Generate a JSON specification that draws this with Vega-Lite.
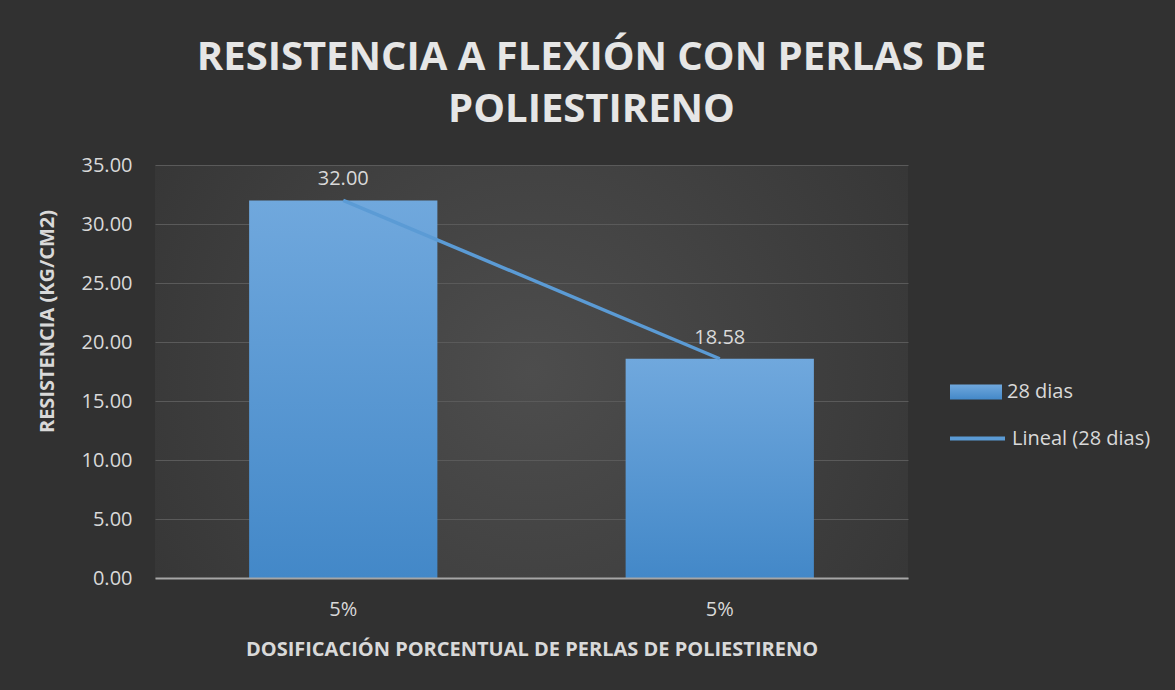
{
  "$schema": "https://vega.github.io/schema/vega-lite/v6.json",
  "width": 753,
  "height": 413,
  "autosize": {"type": "none"},
  "padding": {"left": 155, "top": 165, "right": 267, "bottom": 112},
  "background": "#313131",
  "config": {
    "font": "Open Sans",
    "view": {
      "stroke": null,
      "fill": {"gradient": "radial", "x1": 0.5, "y1": 0.5, "r1": 0, "x2": 0.5, "y2": 0.5, "r2": 0.72,
        "stops": [{"offset": 0, "color": "#4d4d4d"}, {"offset": 1, "color": "#313131"}]}
    },
    "legend": {"padding": 0, "labelColor": "#d9d9d9", "labelFontSize": 20, "labelFont": "Open Sans", "labelOffset": 5, "title": null}
  },
  "title": {
    "text": ["RESISTENCIA A FLEXIÓN CON PERLAS DE", "POLIESTIRENO"],
    "fontSize": 40,
    "fontWeight": "bold",
    "color": "#e6e6e6",
    "lineHeight": 52,
    "anchor": "middle",
    "frame": "group",
    "dx": 60,
    "offset": 25
  },
  "data": {
    "values": [
      {"pos": "5%|1", "resistencia": 32.0, "serie": "28 dias", "tendencia": "Lineal (28 dias)"},
      {"pos": "5%|2", "resistencia": 18.58, "serie": "28 dias", "tendencia": "Lineal (28 dias)"}
    ]
  },
  "encoding": {
    "x": {
      "field": "pos",
      "type": "nominal",
      "sort": null,
      "scale": {"paddingInner": 0.5, "paddingOuter": 0.25},
      "axis": {
        "title": "DOSIFICACIÓN PORCENTUAL DE PERLAS DE POLIESTIRENO",
        "titleFontSize": 20,
        "titleFontWeight": "bold",
        "titleColor": "#d9d9d9",
        "titlePadding": 20,
        "labelExpr": "split(datum.value, '|')[0]",
        "labelAngle": 0,
        "labelFontSize": 20,
        "labelColor": "#d9d9d9",
        "labelPadding": 21,
        "ticks": false,
        "domainColor": "#a6a6a6",
        "domainWidth": 2,
        "zindex": 1
      }
    },
    "y": {
      "field": "resistencia",
      "type": "quantitative",
      "scale": {"domain": [0, 35], "nice": false},
      "axis": {
        "title": "RESISTENCIA (KG/CM2)",
        "titleFontSize": 20,
        "titleFontWeight": "bold",
        "titleColor": "#d9d9d9",
        "titleX": -108,
        "titleY": 156,
        "titleAlign": "center",
        "titleBaseline": "middle",
        "values": [0, 5, 10, 15, 20, 25, 30, 35],
        "format": ".2f",
        "labelFontSize": 20,
        "labelColor": "#d9d9d9",
        "labelPadding": 23,
        "ticks": false,
        "domain": false,
        "gridColor": "#5a5a5a",
        "gridWidth": 1
      }
    }
  },
  "layer": [
    {
      "mark": {"type": "bar", "fill": {"gradient": "linear", "x1": 0, "y1": 0, "x2": 0, "y2": 1,
            "stops": [{"offset": 0, "color": "#70a8dd"}, {"offset": 1, "color": "#4388c8"}]}},
      "encoding": {
        "opacity": {
          "field": "serie",
          "type": "nominal",
          "scale": {"range": [1]},
          "legend": {
            "orient": "none",
            "legendX": 795,
            "legendY": 201,
            "symbolType": "M-1,-0.29H1V0.29H-1Z",
            "symbolSize": 2704,
            "symbolFillColor": "#5b9bd5",
            "symbolStrokeWidth": 0,
            "symbolOpacity": 1
          }
        }
      }
    },
    {
      "mark": {"type": "line", "strokeWidth": 3.5},
      "encoding": {
        "stroke": {
          "field": "tendencia",
          "type": "nominal",
          "scale": {"range": ["#5b9bd5"]},
          "legend": {
            "orient": "none",
            "legendX": 793,
            "legendY": 244,
            "symbolType": "stroke",
            "symbolSize": 3025,
            "symbolStrokeWidth": 4
          }
        }
      }
    },
    {
      "mark": {"type": "text", "baseline": "bottom", "dy": -11, "fontSize": 20, "color": "#d9d9d9"},
      "encoding": {
        "text": {"field": "resistencia", "type": "quantitative", "format": ".2f"}
      }
    }
  ]
}
